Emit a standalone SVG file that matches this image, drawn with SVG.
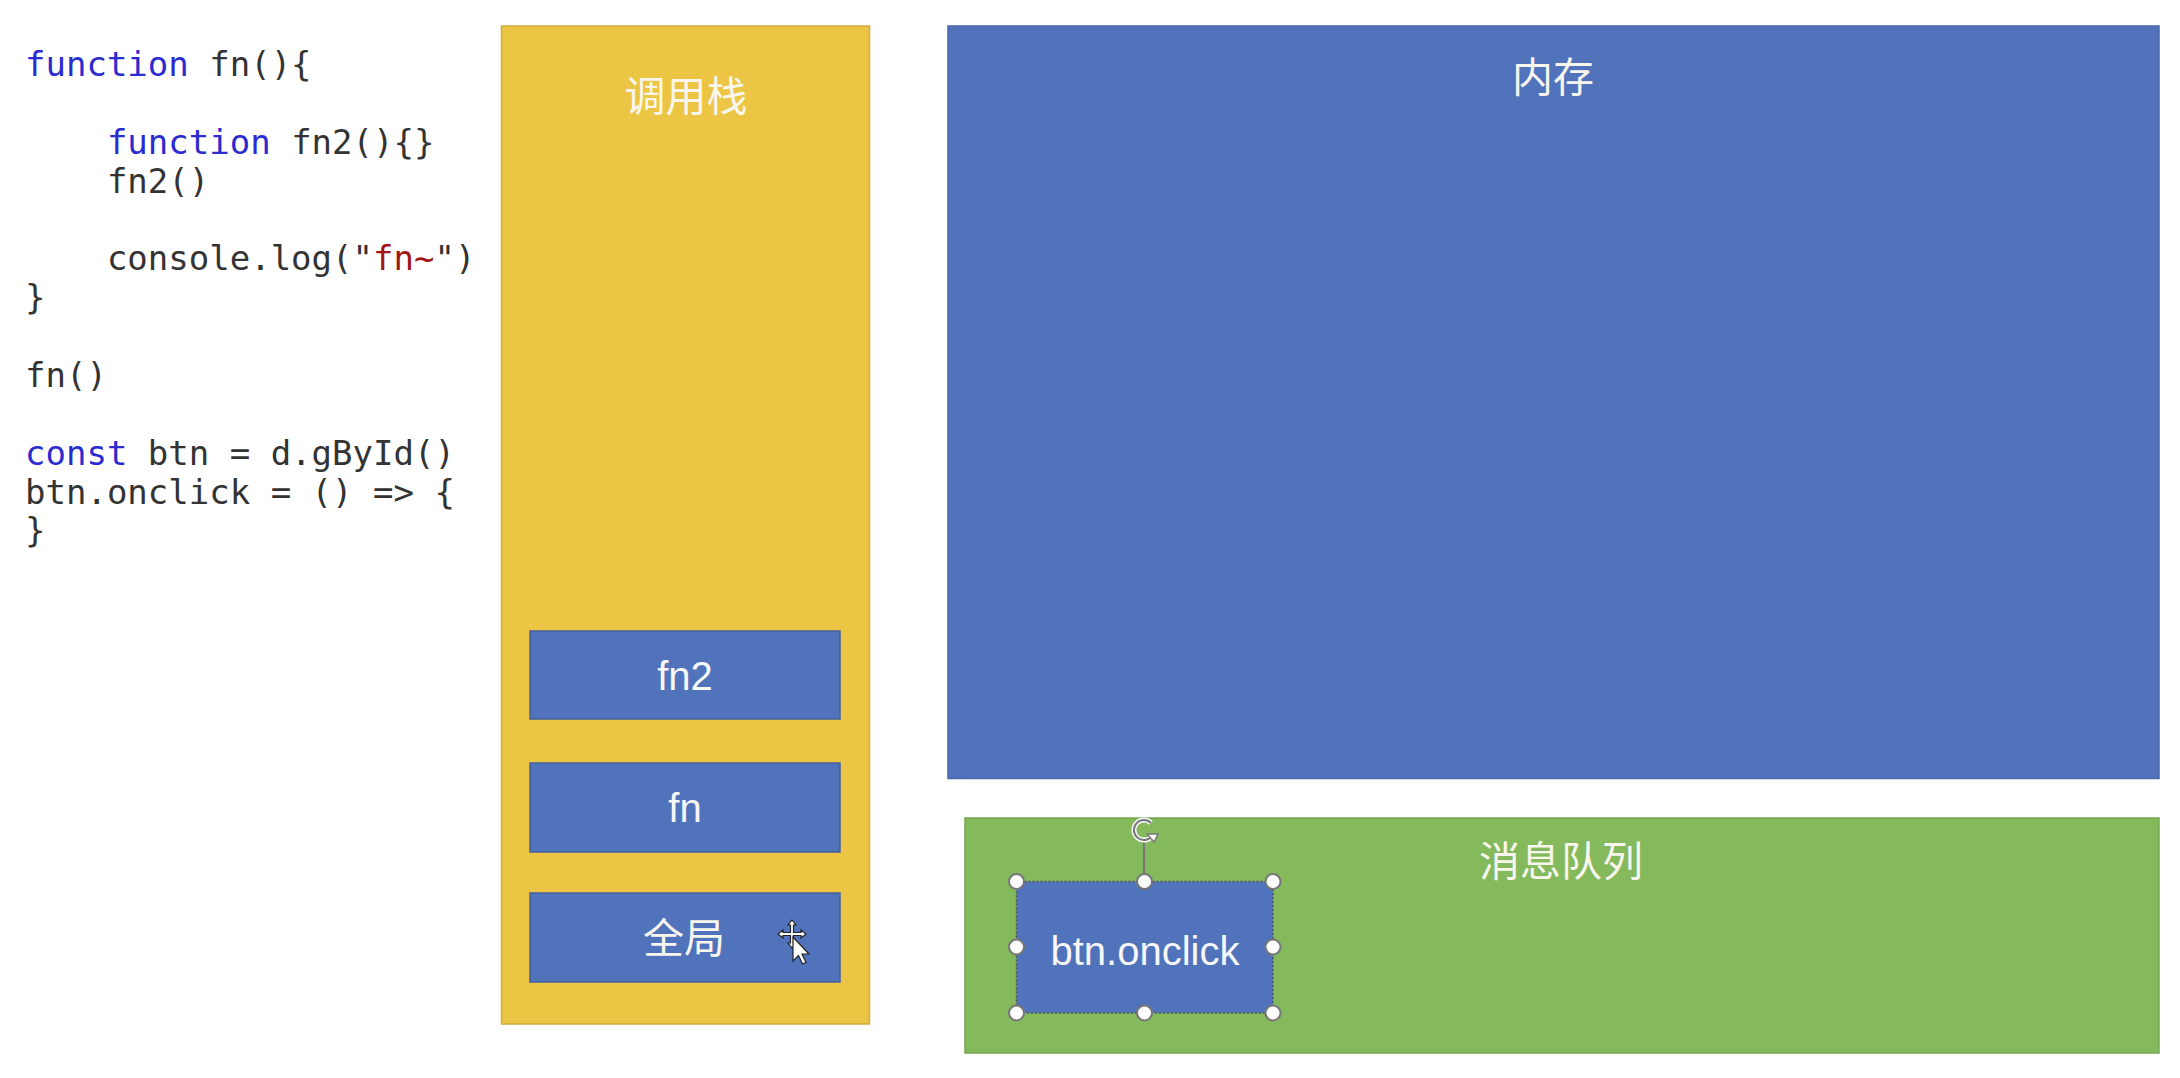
<svg xmlns="http://www.w3.org/2000/svg" width="2180" height="1078" viewBox="0 0 2180 1078">
  <style>
    .code { font-family: "DejaVu Sans Mono", "Liberation Mono", monospace; font-size: 34px; fill: #333333; white-space: pre; }
    .kw { fill: #2b2bd0; }
    .str { fill: #a31515; }
    .label { font-family: "Liberation Sans", "Noto Sans CJK SC", sans-serif; font-size: 40px; fill: #f7f7f7; text-anchor: middle; }
    .cjk { font-family: "Noto Sans CJK SC", "Liberation Sans", sans-serif; font-size: 41px; fill: #f9f6ee; text-anchor: middle; }
    .frame { fill: #5173bc; stroke: #40609f; stroke-width: 1.5; }
    .handle { fill: #ffffff; stroke: #777777; stroke-width: 2; }
  </style>
  <rect x="0" y="0" width="2180" height="1078" fill="#ffffff"/>

  <g id="code">
    <text class="code" x="25" y="76"><tspan class="kw">function</tspan> fn(){</text>
    <text class="code" x="25" y="154">    <tspan class="kw">function</tspan> fn2(){}</text>
    <text class="code" x="25" y="192.5">    fn2()</text>
    <text class="code" x="25" y="270">    console.log("<tspan class="str">fn~</tspan>")</text>
    <text class="code" x="25" y="309">}</text>
    <text class="code" x="25" y="387">fn()</text>
    <text class="code" x="25" y="465"><tspan class="kw">const</tspan> btn = d.gById()</text>
    <text class="code" x="25" y="503.5">btn.onclick = () =&gt; {</text>
    <text class="code" x="25" y="542">}</text>
  </g>

  <g id="call-stack">
    <rect x="501.5" y="26" width="368" height="998" fill="#ecc544" stroke="#d1ad3c" stroke-width="1.5"/>
    <text class="cjk" x="686" y="111">调用栈</text>
  </g>

  <g id="frame-fn2">
    <rect class="frame" x="530" y="631" width="310" height="88"/>
    <text class="label" x="685" y="690">fn2</text>
  </g>
  <g id="frame-fn">
    <rect class="frame" x="530" y="763" width="310" height="89"/>
    <text class="label" x="685" y="822">fn</text>
  </g>
  <g id="frame-global">
    <rect class="frame" x="530" y="893" width="310" height="89"/>
    <text class="cjk" x="684" y="953" font-size="42">全局</text>
    <g transform="translate(792,934)" fill="#ffffff" stroke="#222222" stroke-width="1.2">
      <path d="M0,-14 L4,-9 L1.5,-9 L1.5,-1.5 L9,-1.5 L9,-4 L14,0 L9,4 L9,1.5 L1.5,1.5 L1.5,9 L4,9 L0,14 L-4,9 L-1.5,9 L-1.5,1.5 L-9,1.5 L-9,4 L-14,0 L-9,-4 L-9,-1.5 L-1.5,-1.5 L-1.5,-9 L-4,-9 Z"/>
      <path d="M1,3 L1,27 L6.5,21.5 L10.5,30 L14,28.5 L10,20 L17,20 Z"/>
    </g>
  </g>

  <g id="memory">
    <rect x="948" y="26" width="1211" height="752.5" fill="#5173bc" stroke="#4a68aa" stroke-width="1.5"/>
    <text class="cjk" x="1553" y="92">内存</text>
  </g>

  <g id="message-queue">
    <rect x="965" y="818" width="1194" height="235" fill="#84b95c" stroke="#76a752" stroke-width="1.5"/>
    <text class="cjk" x="1561" y="876">消息队列</text>
  </g>

  <g id="btn-onclick">
    <rect x="1016.5" y="881.5" width="256.5" height="131.5" fill="#5173bc" stroke="#555555" stroke-width="1.5" stroke-dasharray="2 2"/>
    <text class="label" x="1145" y="965" font-size="41">btn.onclick</text>
    <line x1="1144" y1="842" x2="1144" y2="876" stroke="#777777" stroke-width="2"/>
    <path d="M1151,823 A10,10 0 1 0 1152,836" fill="none" stroke="#ffffff" stroke-width="5"/>
    <path d="M1151,823 A10,10 0 1 0 1152,836" fill="none" stroke="#777777" stroke-width="2"/>
    <path d="M1147,834 L1158,834 L1154,842 Z" fill="#ffffff" stroke="#777777" stroke-width="1.5"/>
    <circle class="handle" cx="1016.5" cy="881.5" r="7.5"/>
    <circle class="handle" cx="1144.5" cy="881.5" r="7.5"/>
    <circle class="handle" cx="1273" cy="881.5" r="7.5"/>
    <circle class="handle" cx="1016.5" cy="947" r="7.5"/>
    <circle class="handle" cx="1273" cy="947" r="7.5"/>
    <circle class="handle" cx="1016.5" cy="1013" r="7.5"/>
    <circle class="handle" cx="1144.5" cy="1013" r="7.5"/>
    <circle class="handle" cx="1273" cy="1013" r="7.5"/>
  </g>

  <g id="connectors"></g>
</svg>
